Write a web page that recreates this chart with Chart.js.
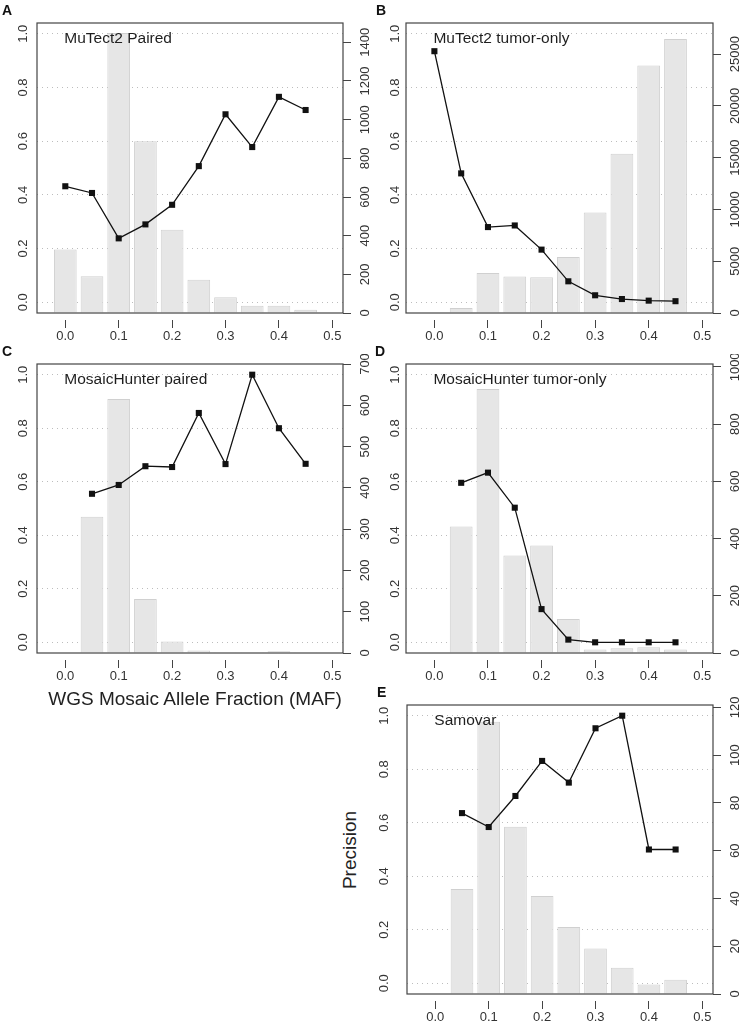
<!DOCTYPE html>
<html>
<head>
<meta charset="utf-8">
<script src="https://cdn.jsdelivr.net/npm/chart.js@4.4.1/dist/chart.umd.min.js"></script>
<style>
  body { margin: 0; background: #fff; width: 746px; height: 1026px; position: relative; overflow: hidden;
         font-family: "Liberation Sans", Arial, sans-serif; }
  canvas { position: absolute; }
  .txt { position: absolute; white-space: nowrap; line-height: 1; color: #1e1e1e; }
</style>
</head>
<body>
<script>
// bins of the MAF histogram, shared by all panels
const mafBins = [0, 0.05, 0.1, 0.15, 0.2, 0.25, 0.3, 0.35, 0.4, 0.45];
const mafTicks = [0, 0.1, 0.2, 0.3, 0.4, 0.5];
const precisionTicks = [0, 0.2, 0.4, 0.6, 0.8, 1.0];

// A - MuTect2 Paired
const precisionA = [0.432, 0.407, 0.238, 0.290, 0.363, 0.507, 0.700, 0.578, 0.765, 0.716];
const callsA = [328, 190, 1448, 888, 431, 172, 81, 38, 38, 17];
const callTicksA = [0, 200, 400, 600, 800, 1000, 1200, 1400];

// B - MuTect2 tumor-only
const precisionB = [0.935, 0.480, 0.280, 0.286, 0.196, 0.078, 0.026, 0.012, 0.006, 0.004];
const callsB = [null, 480, 3860, 3530, 3440, 5410, 9710, 15380, 23900, 26450];
const callTicksB = [0, 5000, 10000, 15000, 20000, 25000];

// C - MosaicHunter paired
const precisionC = [null, 0.555, 0.588, 0.658, 0.655, 0.857, 0.666, 1.0, 0.800, 0.667];
const callsC = [null, 330, 615, 131, 28, 6, 2, 2, 4, 2];
const callTicksC = [0, 100, 200, 300, 400, 500, 600, 700];

// D - MosaicHunter tumor-only
const precisionD = [null, 0.596, 0.634, 0.503, 0.124, 0.010, 0.0, 0.0, 0.0, 0.0];
const callsD = [null, 442, 923, 341, 376, 119, 12, 17, 20, 12];
const callTicksD = [0, 200, 400, 600, 800, 1000];

// E - Samovar
const precisionE = [null, 0.636, 0.584, 0.700, 0.831, 0.750, 0.953, 1.0, 0.5, 0.5];
const callsE = [null, 44, 114, 70, 41, 28, 19, 11, 4, 6];
const callTicksE = [0, 20, 40, 60, 80, 100, 120];

const FONT = '"Liberation Sans", Arial, sans-serif';
Chart.defaults.font.family = FONT;

const panels = [
  { letter: 'A', title: 'MuTect2 Paired', box: [37, 23, 343, 313], leftOff: 14, letterX: 2,
    precision: precisionA, calls: callsA, callTicks: callTicksA, callMax: 1500 },
  { letter: 'B', title: 'MuTect2 tumor-only', box: [406, 23, 713, 313], leftOff: 11, letterX: 376,
    precision: precisionB, calls: callsB, callTicks: callTicksB, callMax: 28000 },
  { letter: 'C', title: 'MosaicHunter paired', box: [37, 364, 343, 653], leftOff: 14, letterX: 2,
    precision: precisionC, calls: callsC, callTicks: callTicksC, callMax: 700 },
  { letter: 'D', title: 'MosaicHunter tumor-only', box: [406, 364, 713, 653], leftOff: 11, letterX: 375,
    precision: precisionD, calls: callsD, callTicks: callTicksD, callMax: 1010 },
  { letter: 'E', title: 'Samovar', box: [407, 705, 713, 994], leftOff: 23, letterX: 377,
    precision: precisionE, calls: callsE, callTicks: callTicksE, callMax: 121 }
];

const mctx = document.createElement('canvas').getContext('2d');
function textWidth(s, px) {
  mctx.font = px + 'px ' + FONT;
  return mctx.measureText(s).width;
}

function addText(str, x, baseline, size, extra) {
  const d = document.createElement('div');
  d.className = 'txt';
  d.textContent = str;
  d.style.fontSize = size + 'px';
  d.style.left = x + 'px';
  d.style.top = (baseline - 0.8465 * size) + 'px';
  Object.assign(d.style, extra || {});
  document.body.appendChild(d);
  return d;
}

// box around the plot region
const framePlugin = {
  id: 'frame',
  afterDraw(chart) {
    const { ctx, chartArea: a } = chart;
    ctx.save();
    ctx.strokeStyle = '#444';
    ctx.lineWidth = 1.2;
    ctx.strokeRect(a.left, a.top, a.right - a.left, a.bottom - a.top);
    ctx.restore();
  }
};

function makePanel(p) {
  const [L, T, R, B] = p.box;
  const wl = 40, wr = 40, pt = 10, hb = 40;
  const w = R - L + wl + wr, h = B - T + pt + hb;
  const cv = document.createElement('canvas');
  cv.width = w; cv.height = h;
  cv.style.left = (L - wl) + 'px';
  cv.style.top = (T - pt) + 'px';
  cv.style.width = w + 'px';
  cv.style.height = h + 'px';
  document.body.appendChild(cv);

  const padL = p.leftOff - textWidth('0.0', 13) / 2;
  const maxLbl = String(p.callTicks[p.callTicks.length - 1]);
  const padR = 22 - 8 - textWidth(maxLbl, 13) / 2;

  new Chart(cv, {
    type: 'bar',
    data: {
      datasets: [
        {
          type: 'line',
          data: mafBins.map((x, i) => ({ x, y: p.precision[i] })),
          yAxisID: 'y',
          order: 0,
          borderColor: '#111',
          borderWidth: 1.3,
          tension: 0,
          spanGaps: false,
          pointStyle: 'rect',
          pointRadius: 4.3,
          pointBackgroundColor: '#111',
          pointBorderColor: '#111',
          pointBorderWidth: 0
        },
        {
          type: 'bar',
          data: mafBins.map((x, i) => ({ x, y: p.calls[i] })),
          yAxisID: 'y2',
          order: 1,
          backgroundColor: '#e6e6e6',
          borderColor: '#d0d0d0',
          borderWidth: 1,
          barPercentage: 0.85,
          categoryPercentage: 1
        }
      ]
    },
    options: {
      responsive: false,
      animation: false,
      devicePixelRatio: 1,
      layout: { padding: { top: pt, left: 0, right: 0, bottom: 0 } },
      plugins: { legend: { display: false }, tooltip: { enabled: false } },
      scales: {
        x: {
          type: 'linear',
          min: -0.053,
          max: 0.52,
          offset: false,
          afterBuildTicks: s => { s.ticks = mafTicks.map(v => ({ value: v })); },
          afterFit: s => { s.height = hb; s.paddingLeft = 0; s.paddingRight = 0; },
          grid: {
            offset: false, drawOnChartArea: false, drawTicks: true, tickLength: 15,
            tickWidth: 1, tickColor: '#444', tickBorderDash: [0, 7, 8, 0]
          },
          border: { display: false },
          ticks: {
            font: { size: 13 }, color: '#333', padding: 1, maxRotation: 0, autoSkip: false,
            callback: v => v.toFixed(1)
          }
        },
        y: {
          position: 'left',
          min: -0.04,
          max: 1.04,
          afterBuildTicks: s => { s.ticks = precisionTicks.map(v => ({ value: v })); },
          afterFit: s => { s.width = wl; s.paddingTop = 0; s.paddingBottom = 0; },
          grid: { color: '#bdbdbd', drawTicks: false, lineWidth: 1 },
          border: { display: false, dash: [1, 4] },
          ticks: {
            font: { size: 13 }, color: '#333', minRotation: 90, maxRotation: 90,
            crossAlign: 'center', padding: padL, autoSkip: false,
            callback: v => v.toFixed(1)
          }
        },
        y2: {
          position: 'right',
          min: 0,
          max: p.callMax,
          afterBuildTicks: s => { s.ticks = p.callTicks.map(v => ({ value: v })); },
          afterFit: s => { s.width = wr; s.paddingTop = 0; s.paddingBottom = 0; },
          grid: { drawOnChartArea: false, drawTicks: true, tickLength: 8, color: '#444', tickColor: '#444' },
          border: { display: false },
          ticks: {
            font: { size: 13 }, color: '#333', minRotation: 90, maxRotation: 90,
            crossAlign: 'center', padding: padR, autoSkip: false,
            callback: v => String(v)
          }
        }
      }
    },
    plugins: [framePlugin]
  });

  // panel letter and in-plot title
  const x0 = L + (0 - (-0.053)) / 0.573 * (R - L);
  addText(p.letter, p.letterX, T - 8, 14, { fontWeight: 'bold', color: '#111' });
  addText(p.title, x0 - 1, T + 20.5, 15.5);
}

panels.forEach(makePanel);

// shared axis titles
addText('WGS Mosaic Allele Fraction (MAF)', 45, 705, 19, { width: '300px', textAlign: 'center', color: '#222' });
const prec = addText('Precision', 349, 850, 19, { color: '#222' });
prec.style.top = '850px';
prec.style.transform = 'translate(-50%, -50%) rotate(-90deg)';
</script>
</body>
</html>
